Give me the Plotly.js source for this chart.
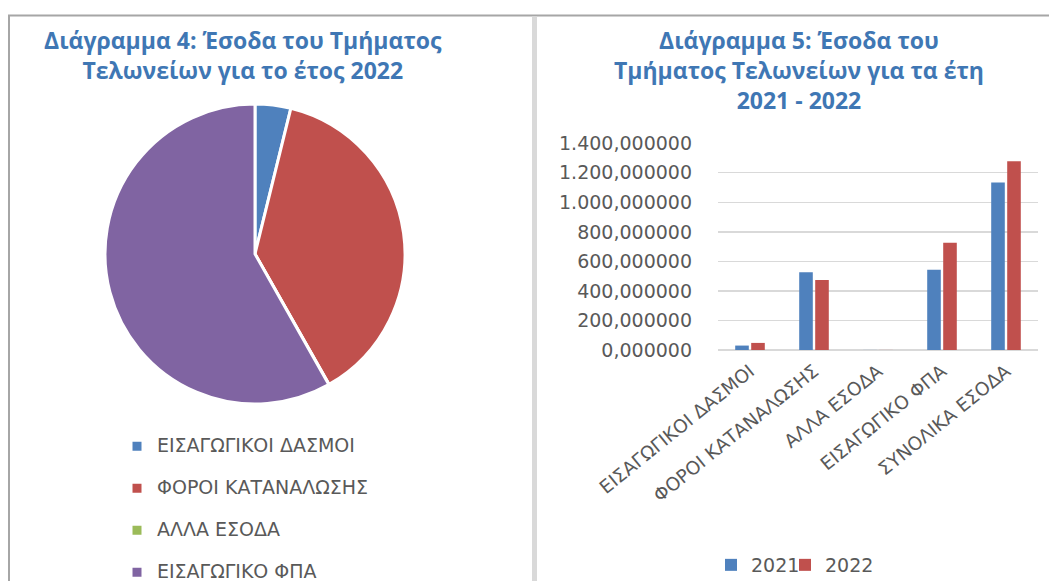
<!DOCTYPE html>
<html>
<head>
<meta charset="utf-8">
<script src="https://cdn.plot.ly/plotly-3.0.1.min.js"></script>
<style>html,body{margin:0;padding:0;background:#fff;overflow:hidden;}#chart{width:1049px;height:581px;}</style>
</head>
<body>
<div id="chart"></div>
<script>
// ---- data ----
const pieLabels = ['ΕΙΣΑΓΩΓΙΚΟΙ ΔΑΣΜΟΙ', 'ΦΟΡΟΙ ΚΑΤΑΝΑΛΩΣΗΣ', 'ΑΛΛΑ ΕΣΟΔΑ', 'ΕΙΣΑΓΩΓΙΚΟ ΦΠΑ'];
const pieValues2022 = [48, 474, 0.5, 727];
const pieColors = ['#4f81bd', '#c0504d', '#9bbb59', '#8064a2'];

const barCategories = ['ΕΙΣΑΓΩΓΙΚΟΙ ΔΑΣΜΟΙ', 'ΦΟΡΟΙ ΚΑΤΑΝΑΛΩΣΗΣ', 'ΑΛΛΑ ΕΣΟΔΑ', 'ΕΙΣΑΓΩΓΙΚΟ ΦΠΑ', 'ΣΥΝΟΛΙΚΑ ΕΣΟΔΑ'];
const values2021 = [30, 526, 0.5, 544, 1134];
const values2022 = [48, 474, 0.5, 727, 1278];
const seriesNames = ['2021', '2022'];

const title1 = 'Διάγραμμα 4: Έσοδα του Τμήματος<br>Τελωνείων για το έτος 2022';
const title2 = 'Διάγραμμα 5: Έσοδα του<br>Τμήματος Τελωνείων για τα έτη<br>2021 - 2022';

// ---- layout helpers ----
const W = 1049, H = 581;
const fx = p => p / W;
const fy = p => 1 - p / H;
const GRAY = '#595959';
const TITLE_BLUE = '#3f77b4';

const pieLegendText = pieLabels.map(l => '<span style="font-size:19px">' + l + '</span><br> ');

const traces = [
  {
    type: 'pie',
    labels: pieLegendText,
    values: pieValues2022,
    sort: false,
    direction: 'clockwise',
    rotation: 0,
    textinfo: 'none',
    hoverinfo: 'none',
    marker: { colors: pieColors, line: { color: '#ffffff', width: 3 } },
    domain: { x: [fx(105), fx(405)], y: [fy(404), fy(104)] },
    legend: 'legend'
  },
  {
    type: 'bar',
    name: seriesNames[0],
    x: barCategories,
    y: values2021,
    marker: { color: '#4f81bd' },
    xaxis: 'x', yaxis: 'y',
    legend: 'legend2'
  },
  {
    type: 'bar',
    name: seriesNames[1],
    x: barCategories,
    y: values2022,
    marker: { color: '#c0504d' },
    xaxis: 'x', yaxis: 'y',
    legend: 'legend3'
  }
];

const barLegend = (left) => ({
  xref: 'container', yref: 'container',
  x: fx(left), y: fy(565),
  xanchor: 'left', yanchor: 'middle',
  orientation: 'h',
  font: { family: 'DejaVu Sans', size: 19, color: GRAY },
  bgcolor: 'rgba(0,0,0,0)'
});

const layout = {
  width: W, height: H,
  autosize: false,
  margin: { l: 0, r: 0, t: 0, b: 0, pad: 0, autoexpand: false },
  paper_bgcolor: '#ffffff',
  plot_bgcolor: '#ffffff',
  separators: ',.',
  font: { family: 'DejaVu Sans', color: GRAY },
  barmode: 'group',
  bargap: 0.5,
  bargroupgap: 0.15,
  xaxis: {
    domain: [fx(718), fx(1038)],
    tickangle: -39,
    tickfont: { family: 'DejaVu Sans', size: 18.5, color: GRAY },
    ticklabelstandoff: 6,
    showgrid: false,
    showline: false,
    ticks: '',
    automargin: false,
    fixedrange: true
  },
  yaxis: {
    domain: [fy(350), fy(143.3)],
    range: [0, 1400],
    dtick: 200,
    tickformat: ',.6f',
    tickfont: { family: 'DejaVu Sans', size: 19, color: GRAY },
    gridcolor: '#d9d9d9',
    gridwidth: 1.3,
    zeroline: true,
    zerolinecolor: '#d9d9d9',
    zerolinewidth: 1.3,
    showline: false,
    ticks: '',
    ticklabelstandoff: 25,
    automargin: false,
    fixedrange: true
  },
  legend: {
    xref: 'container', yref: 'container',
    x: fx(117), y: fy(430),
    xanchor: 'left', yanchor: 'top',
    orientation: 'v',
    font: { family: 'DejaVu Sans', size: 15, color: GRAY },
    valign: 'top',
    bgcolor: 'rgba(0,0,0,0)'
  },
  legend2: barLegend(711),
  legend3: barLegend(785),
  annotations: [
    {
      text: title1, xref: 'paper', yref: 'paper',
      x: fx(243), y: fy(55), xanchor: 'center', yanchor: 'middle',
      showarrow: false, align: 'center',
      font: { family: 'Open Sans', size: 23, color: TITLE_BLUE, weight: 'bold' }
    },
    {
      text: title2, xref: 'paper', yref: 'paper',
      x: fx(799), y: fy(70), xanchor: 'center', yanchor: 'middle',
      showarrow: false, align: 'center',
      font: { family: 'Open Sans', size: 23, color: TITLE_BLUE, weight: 'bold' }
    }
  ],
  shapes: [
    { type: 'line', xref: 'paper', yref: 'paper', x0: fx(8), x1: 1, y0: fy(15.5), y1: fy(15.5), line: { color: '#a6a6a6', width: 2 } },
    { type: 'line', xref: 'paper', yref: 'paper', x0: fx(9), x1: fx(9), y0: fy(15.5), y1: 0, line: { color: '#a6a6a6', width: 2 } },
    { type: 'rect', xref: 'paper', yref: 'paper', x0: fx(532), x1: fx(537), y0: fy(16.5), y1: 0, fillcolor: '#d9d9d9', line: { width: 0 } }
  ]
};

Plotly.newPlot('chart', traces, layout, { displayModeBar: false, staticPlot: true });
</script>
</body>
</html>
